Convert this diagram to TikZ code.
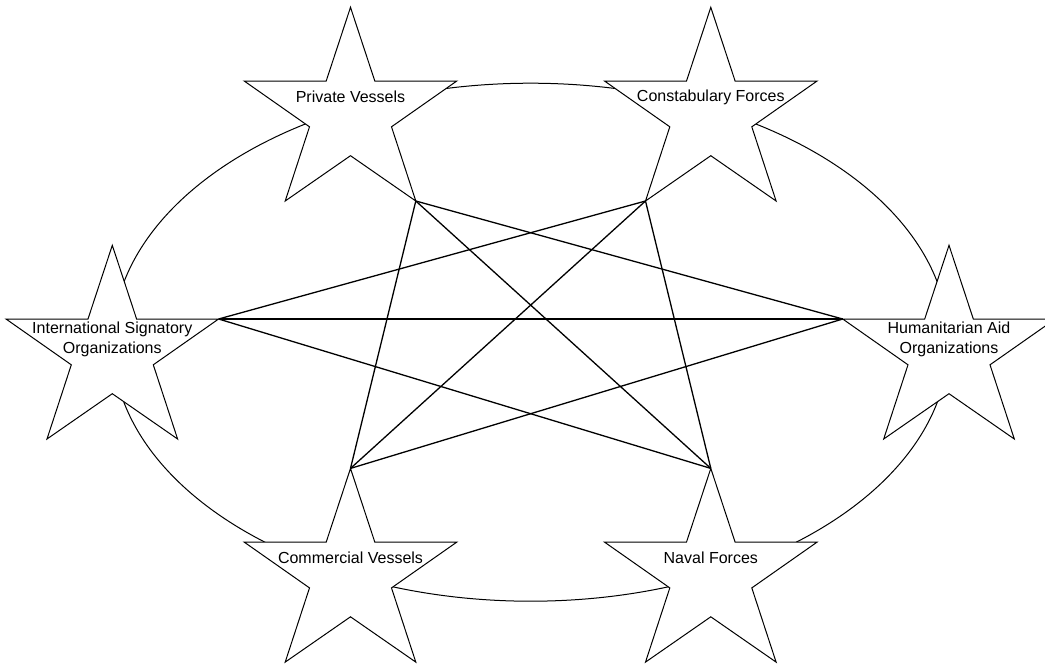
\documentclass[tikz,border=0pt]{standalone}
\usepackage{fontspec}
\setmainfont{Liberation Sans}
\tikzset{
  starbody/.style={draw=black, fill=white, line width=1pt, line join=miter},
  starlabel/.style={align=center, font=\fontsize{16}{20}\selectfont, inner sep=0pt},
  chord/.style={draw=black, line width=1.3pt},
  ring/.style={draw=black, line width=1pt},
}
\newcommand\starnode[5]{%
  \begin{scope}[shift={(#2,#3)}]
    \draw[starbody] (0,-107) -- (24.3,-33.3) -- (106.3,-33.3) -- (41,12.5) -- (65.3,86.7)
      -- (0,41.4) -- (-65.3,86.7) -- (-41,12.5) -- (-106.3,-33.3) -- (-24.3,-33.3) -- cycle;
    \coordinate (#1-t) at (0,-107);
    \coordinate (#1-r) at (106.3,-33.3);
    \coordinate (#1-l) at (-106.3,-33.3);
    \coordinate (#1-br) at (65.3,86.7);
    \coordinate (#1-bl) at (-65.3,86.7);
    \node[starlabel] (#1) at (0,#4) {#5};
  \end{scope}
}
\begin{document}
\begin{tikzpicture}[x=1pt, y=-1pt]
  \useasboundingbox (0,0) rectangle (1045,664);
  \clip (0,0) rectangle (1045,664);
  % ring
  \draw[ring] (530.6,342.2) ellipse [x radius=418pt, y radius=259pt];
  % stars
  \starnode{pv}{350.5}{114.3}{-18}{Private Vessels}
  \starnode{cf}{710.8}{114.3}{-17}{Constabulary Forces}
  \starnode{iso}{112.3}{352.3}{-12.5}{International Signatory\\Organizations}
  \starnode{hao}{949}{352.3}{-12.5}{Humanitarian Aid\\Organizations}
  \starnode{cv}{350.5}{575.4}{-18}{Commercial Vessels}
  \starnode{nf}{710.8}{575.4}{-18}{Naval Forces}
  % chords
  \draw[chord] (pv-br) -- (hao-l);
  \draw[chord] (pv-br) -- (nf-t);
  \draw[chord] (pv-br) -- (cv-t);
  \draw[chord] (cf-bl) -- (iso-r);
  \draw[chord] (cf-bl) -- (cv-t);
  \draw[chord] (cf-bl) -- (nf-t);
  \draw[chord] (iso-r) -- (hao-l);
  \draw[chord] (iso-r) -- (nf-t);
  \draw[chord] (hao-l) -- (cv-t);
\end{tikzpicture}
\end{document}
